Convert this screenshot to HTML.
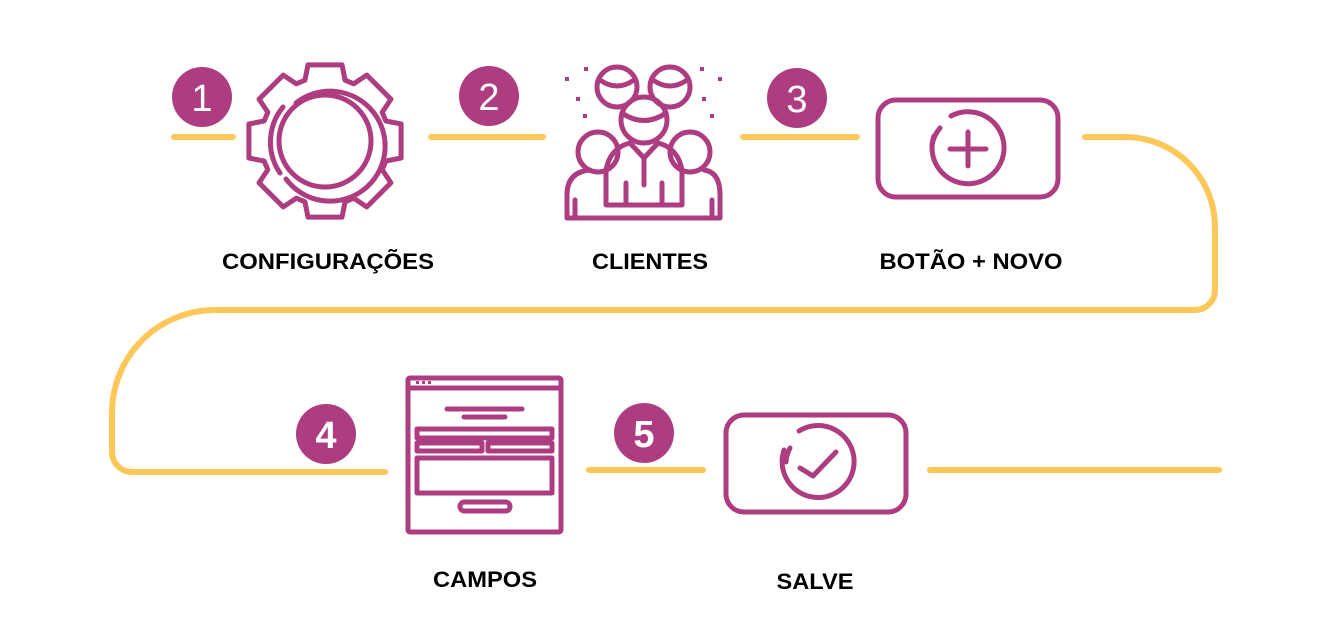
<!DOCTYPE html>
<html><head><meta charset="utf-8"><style>
html,body{margin:0;padding:0;background:#fff;}
svg{display:block}
text{font-family:"Liberation Sans",sans-serif;}
</style></head><body>
<svg width="1331" height="632" viewBox="0 0 1331 632" xmlns="http://www.w3.org/2000/svg">
<g fill="none" stroke="#FDC75A" stroke-width="6" stroke-linecap="round">
<line x1="174" y1="137" x2="233" y2="137"/>
<line x1="431" y1="137" x2="543" y2="137"/>
<line x1="743" y1="137" x2="857" y2="137"/>
<path d="M1085,137 H1125 A90,90 0 0 1 1215,227 V290 A20,20 0 0 1 1195,310 H215 A103,103 0 0 0 112,413 V452 A20,20 0 0 0 132,472 H385"/>
<line x1="589" y1="470" x2="703" y2="470"/>
<line x1="930" y1="470" x2="1219" y2="470"/>
</g>
<g fill="#AD3C81">
<circle cx="202" cy="97" r="30"/><circle cx="489" cy="96" r="30"/><circle cx="797" cy="98" r="30"/>
<circle cx="326" cy="434" r="30"/><circle cx="644" cy="433" r="30"/>
</g>
<g fill="#fff" font-size="38" text-anchor="middle">
<text x="202" y="111">1</text><text x="489" y="110">2</text><text x="797" y="112">3</text>
<text x="326" y="448" font-weight="bold">4</text><text x="644" y="447" font-weight="bold">5</text>
</g>
<g fill="none" stroke="#AD3C81" stroke-width="5" stroke-linecap="round" stroke-linejoin="round">
<polygon id="gear" points=""/>
<circle cx="325" cy="141" r="46"/>
<path d="M296,103 A55,55 0 1 1 286,179"/>
<path d="M283,107 A55,55 0 0 0 280,173"/>
<circle cx="617" cy="87" r="20"/><circle cx="670" cy="87" r="20"/>
<circle cx="598" cy="152" r="20"/><circle cx="690" cy="152" r="20"/>
<circle cx="644" cy="120" r="23"/>
<path d="M600,80 Q617,92 634,80"/><path d="M653,80 Q670,92 687,80"/>
<path d="M622,113 Q644,128 666,113"/>
<path d="M567,218 V195 Q567,172 590,170 M704,170 Q720,172 720,195 V218 H567"/>
<path d="M606,205 V170 Q610,148 630,143 L644,158 L658,143 Q678,148 682,170 V205 Z"/>
<line x1="644" y1="158" x2="644" y2="185"/>
<line x1="575" y1="200" x2="575" y2="218"/><line x1="712" y1="200" x2="712" y2="218"/>
<line x1="626" y1="183" x2="626" y2="205"/><line x1="662" y1="183" x2="662" y2="205"/>
<rect x="878" y="100" width="180" height="97" rx="18"/>
<path d="M951,116 A36,36 0 1 1 934,136"/><path d="M940,128 A36,36 0 0 0 932,145"/>
<line x1="950" y1="149" x2="986" y2="149"/><line x1="968" y1="132" x2="968" y2="166"/>
<rect x="408" y="378" width="153" height="154" rx="2"/>
<line x1="410" y1="388" x2="559" y2="388"/>
<line x1="447" y1="409" x2="522" y2="409"/><line x1="464" y1="417" x2="505" y2="417"/>
<rect x="417" y="429" width="135" height="9"/>
<rect x="417" y="443" width="65" height="8"/><rect x="488" y="443" width="64" height="8"/>
<rect x="417" y="458" width="135" height="35"/>
<rect x="460" y="502" width="50" height="9" rx="4.5"/>
<rect x="726" y="415" width="180" height="97" rx="18"/>
<path d="M799,431 A36,36 0 1 1 784,450"/><path d="M790,448 A36,36 0 0 0 786,462"/>
<polyline points="800,468 813,476 836,452"/>
</g>
<g fill="#AD3C81">
<rect x="422" y="381" width="3" height="3"/><rect x="428" y="381" width="3" height="3"/><rect x="416" y="381" width="3" height="3"/>
<rect x="565" y="77" width="4" height="4"/><rect x="584" y="67" width="4" height="4"/><rect x="576" y="97" width="4" height="4"/><rect x="583" y="114" width="4" height="4"/>
<rect x="700" y="67" width="4" height="4"/><rect x="718" y="77" width="4" height="4"/><rect x="702" y="97" width="4" height="4"/><rect x="710" y="114" width="4" height="4"/>
</g>
<g font-size="22" font-weight="bold" fill="#000" text-anchor="middle">
<text x="328" y="269" textLength="212" lengthAdjust="spacingAndGlyphs">CONFIGURAÇÕES</text>
<text x="650" y="269" textLength="116" lengthAdjust="spacingAndGlyphs">CLIENTES</text>
<text x="971" y="269" textLength="183" lengthAdjust="spacingAndGlyphs">BOTÃO + NOVO</text>
<text x="485" y="587" textLength="104" lengthAdjust="spacingAndGlyphs">CAMPOS</text>
<text x="815" y="589" textLength="77" lengthAdjust="spacingAndGlyphs">SALVE</text>
</g>
</svg>
<script>
var cx=325,cy=141,ro=78,ri=64,pts=[];
for(var i=0;i<8;i++){var a=i*Math.PI/4-Math.PI/2;
var t=0.22,r2=0.32;
[[a-r2,ri],[a-t,ro],[a+t,ro],[a+r2,ri]].forEach(function(p){pts.push((cx+p[1]*Math.cos(p[0])).toFixed(1)+","+(cy+p[1]*Math.sin(p[0])).toFixed(1));});}
document.getElementById('gear').setAttribute('points',pts.join(' '));
</script>
</body></html>
